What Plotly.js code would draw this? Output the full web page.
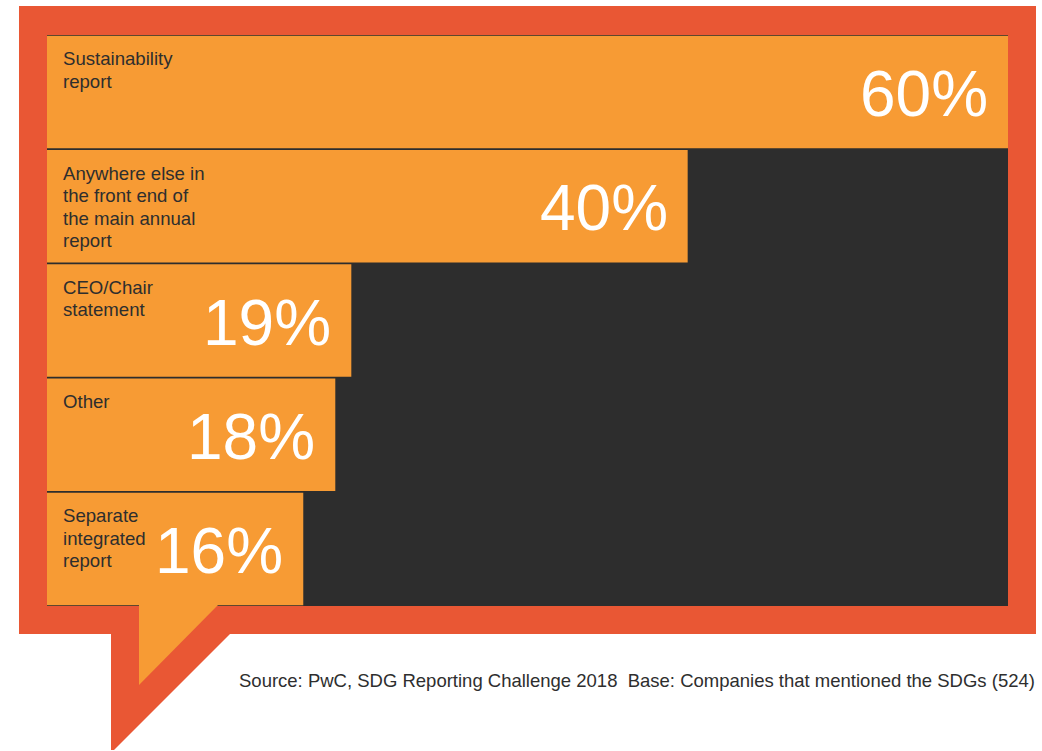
<!DOCTYPE html>
<html>
<head>
<meta charset="utf-8">
<script src="https://cdn.plot.ly/plotly-3.0.1.min.js"></script>
<style>html,body{margin:0;padding:0;background:#fff;}#chart{width:1042px;height:751px;}</style>
</head>
<body>
<div id="chart"></div>
<script>
// ---- data ----
const categories = [
  'Sustainability report',
  'Anywhere else in the front end of the main annual report',
  'CEO/Chair statement',
  'Other',
  'Separate integrated report'
];
const values = [60, 40, 19, 18, 16];
const labelLines = [
  ['Sustainability', 'report'],
  ['Anywhere else in', 'the front end of', 'the main annual', 'report'],
  ['CEO/Chair', 'statement'],
  ['Other'],
  ['Separate', 'integrated', 'report']
];
const valueLabels = values.map(v => v + '%');
const sourceText = 'Source: PwC, SDG Reporting Challenge 2018\u00a0\u00a0Base: Companies that mentioned the SDGs (524)';

// ---- styling ----
const RED = '#E95734';
const ORANGE = '#F79B34';
const DARK = '#2D2D2D';
const TEXT = '#2E2E2E';
const FONT = 'Liberation Sans, Arial, Helvetica, sans-serif';

const W = 1042, H = 751;
const M = {l: 47, r: 34, t: 35, b: 145};
const pw = W - M.l - M.r, ph = H - M.t - M.b;
const px = p => ((p - M.l) / pw).toFixed(5);
const py = p => ((H - M.b - p) / ph).toFixed(5);

const trace = {
  type: 'bar',
  orientation: 'h',
  y: categories,
  x: values,
  marker: {color: ORANGE, line: {width: 0}},
  hoverinfo: 'none',
  textposition: 'none'
};

const bandPx = ph / categories.length;
const annotations = [];
categories.forEach((c, i) => {
  labelLines[i].forEach((ln, j) => {
    annotations.push({
      xref: 'x', yref: 'y', x: 0, y: c,
      xanchor: 'left', yanchor: 'middle',
      xshift: 14,
      yshift: bandPx / 2 - 24 - 22.5 * j,
      text: ln, showarrow: false,
      font: {family: FONT, size: 18.6, color: TEXT}
    });
  });
  annotations.push({
    xref: 'x', yref: 'y', x: values[i], y: c,
    xanchor: 'right', yanchor: 'middle',
    xshift: -18, yshift: -2,
    text: valueLabels[i], showarrow: false,
    font: {family: FONT, size: 64, color: '#FFFFFF'}
  });
});
annotations.push({
  xref: 'paper', yref: 'paper', x: +px(1037), y: +py(680),
  xanchor: 'right', yanchor: 'middle',
  text: sourceText, showarrow: false,
  font: {family: FONT, size: 18.5, color: TEXT}
});

const framePath =
  `M${px(19)},${py(6)} L${px(1036)},${py(6)} L${px(1036)},${py(634)} L${px(19)},${py(634)} Z ` +
  `M${px(47)},${py(35)} L${px(47)},${py(606)} L${px(1008)},${py(606)} L${px(1008)},${py(35)} Z`;
const tailRed = `M${px(111)},${py(633)} L${px(231)},${py(633)} L${px(114)},${py(750)} L${px(111)},${py(750)} Z`;
const tailOrange = `M${px(139)},${py(605)} L${px(218)},${py(605)} L${px(139)},${py(685)} Z`;

const shapes = [
  {type: 'path', xref: 'paper', yref: 'paper', path: framePath, fillcolor: RED, fillrule: 'nonzero', line: {width: 0}, layer: 'above'},
  {type: 'path', xref: 'paper', yref: 'paper', path: tailRed, fillcolor: RED, line: {width: 0}, layer: 'above'},
  {type: 'path', xref: 'paper', yref: 'paper', path: tailOrange, fillcolor: ORANGE, line: {width: 0}, layer: 'above'}
];

const layout = {
  width: W, height: H,
  margin: M,
  paper_bgcolor: '#FFFFFF',
  plot_bgcolor: DARK,
  showlegend: false,
  bargap: 0.015,
  xaxis: {range: [0, 60], showgrid: false, zeroline: false, showticklabels: false, showline: false, fixedrange: true},
  yaxis: {autorange: 'reversed', showgrid: false, zeroline: false, showticklabels: false, showline: false, fixedrange: true},
  annotations: annotations,
  shapes: shapes
};

Plotly.newPlot('chart', [trace], layout, {displayModeBar: false, staticPlot: true});
</script>
</body>
</html>
